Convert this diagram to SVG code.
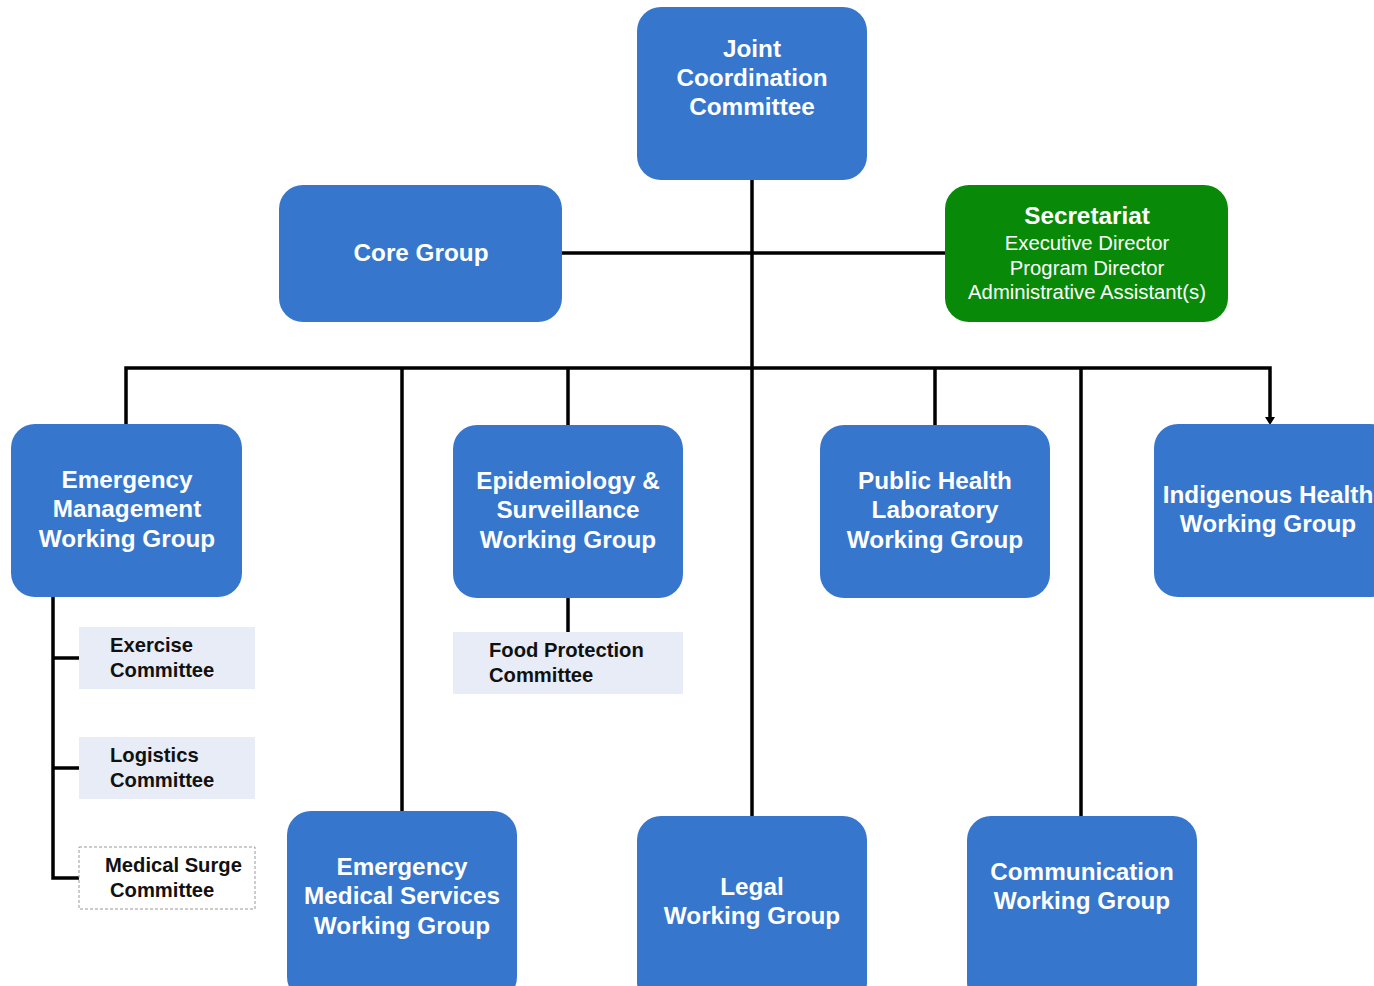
<svg xmlns="http://www.w3.org/2000/svg" width="1374" height="986" viewBox="0 0 1374 986">
<defs>
<style>
.node{fill:#3676cd;}
.sec{fill:#088a08;}
.t{font-family:"Liberation Sans",Arial,sans-serif;font-weight:bold;font-size:24.3px;fill:#fff;text-anchor:middle;}
.r{font-family:"Liberation Sans",Arial,sans-serif;font-size:20.3px;fill:#fff;text-anchor:middle;}
.c{font-family:"Liberation Sans",Arial,sans-serif;font-weight:bold;font-size:20.2px;fill:#111;}
.cb{fill:#e7ecf6;}
.ln{stroke:#000;stroke-width:3.5;fill:none;}
</style>
</defs>
<rect width="1374" height="986" fill="#fff"/>
<g id="connectors">
<line class="ln" x1="752" y1="180" x2="752" y2="816"/>
<line class="ln" x1="562" y1="253" x2="945" y2="253"/>
<polyline class="ln" points="126,424 126,368 1270,368 1270,420"/>
<line class="ln" x1="402" y1="368" x2="402" y2="811"/>
<line class="ln" x1="568" y1="368" x2="568" y2="425"/>
<line class="ln" x1="935" y1="368" x2="935" y2="425"/>
<line class="ln" x1="1081" y1="368" x2="1081" y2="816"/>
<path d="M1265,417 L1275,417 L1270,425 z" fill="#000"/>
<line class="ln" x1="568" y1="598" x2="568" y2="632"/>
<polyline class="ln" points="53,597 53,878 79,878"/>
<line class="ln" x1="53" y1="658" x2="79" y2="658"/>
<line class="ln" x1="53" y1="768" x2="79" y2="768"/>
</g>
<g id="jcc">
<rect class="node" x="637" y="7" width="230" height="173" rx="24"/>
<text class="t" x="752" y="57">Joint</text>
<text class="t" x="752" y="86">Coordination</text>
<text class="t" x="752" y="115">Committee</text>
</g>
<g id="core">
<rect class="node" x="279" y="185" width="283" height="137" rx="24"/>
<text class="t" x="421" y="261">Core Group</text>
</g>
<g id="secretariat">
<rect class="sec" x="945" y="185" width="283" height="137" rx="24"/>
<text class="t" x="1087" y="224">Secretariat</text>
<text class="r" x="1087" y="250">Executive Director</text>
<text class="r" x="1087" y="275">Program Director</text>
<text class="r" x="1087" y="299">Administrative Assistant(s)</text>
</g>
<g id="emwg">
<rect class="node" x="11" y="424" width="231" height="173" rx="24"/>
<text class="t" x="127" y="488">Emergency</text>
<text class="t" x="127" y="517">Management</text>
<text class="t" x="127" y="547">Working Group</text>
</g>
<g id="epi">
<rect class="node" x="453" y="425" width="230" height="173" rx="24"/>
<text class="t" x="568" y="489">Epidemiology &amp;</text>
<text class="t" x="568" y="518">Surveillance</text>
<text class="t" x="568" y="548">Working Group</text>
</g>
<g id="phl">
<rect class="node" x="820" y="425" width="230" height="173" rx="24"/>
<text class="t" x="935" y="489">Public Health</text>
<text class="t" x="935" y="518">Laboratory</text>
<text class="t" x="935" y="548">Working Group</text>
</g>
<g id="indigenous">
<rect class="node" x="1154" y="424" width="240" height="173" rx="24"/>
<text class="t" x="1268" y="503">Indigenous Health</text>
<text class="t" x="1268" y="532">Working Group</text>
</g>
<g id="exercise">
<rect class="cb" x="79" y="627" width="176" height="62"/>
<text class="c" x="110" y="652">Exercise</text>
<text class="c" x="110" y="677">Committee</text>
</g>
<g id="logistics">
<rect class="cb" x="79" y="737" width="176" height="62"/>
<text class="c" x="110" y="762">Logistics</text>
<text class="c" x="110" y="787">Committee</text>
</g>
<g id="medsurge">
<rect x="79" y="847" width="176" height="62" fill="#fff" stroke="#999" stroke-width="1" stroke-dasharray="3,2"/>
<text class="c" x="105" y="872">Medical Surge</text>
<text class="c" x="110" y="897">Committee</text>
</g>
<g id="food">
<rect class="cb" x="453" y="632" width="230" height="62"/>
<text class="c" x="489" y="657">Food Protection</text>
<text class="c" x="489" y="682">Committee</text>
</g>
<g id="ems">
<rect class="node" x="287" y="811" width="230" height="190" rx="24"/>
<text class="t" x="402" y="875">Emergency</text>
<text class="t" x="402" y="904">Medical Services</text>
<text class="t" x="402" y="934">Working Group</text>
</g>
<g id="legal">
<rect class="node" x="637" y="816" width="230" height="190" rx="24"/>
<text class="t" x="752" y="895">Legal</text>
<text class="t" x="752" y="924">Working Group</text>
</g>
<g id="comm">
<rect class="node" x="967" y="816" width="230" height="190" rx="24"/>
<text class="t" x="1082" y="880">Communication</text>
<text class="t" x="1082" y="909">Working Group</text>
</g>
</svg>
